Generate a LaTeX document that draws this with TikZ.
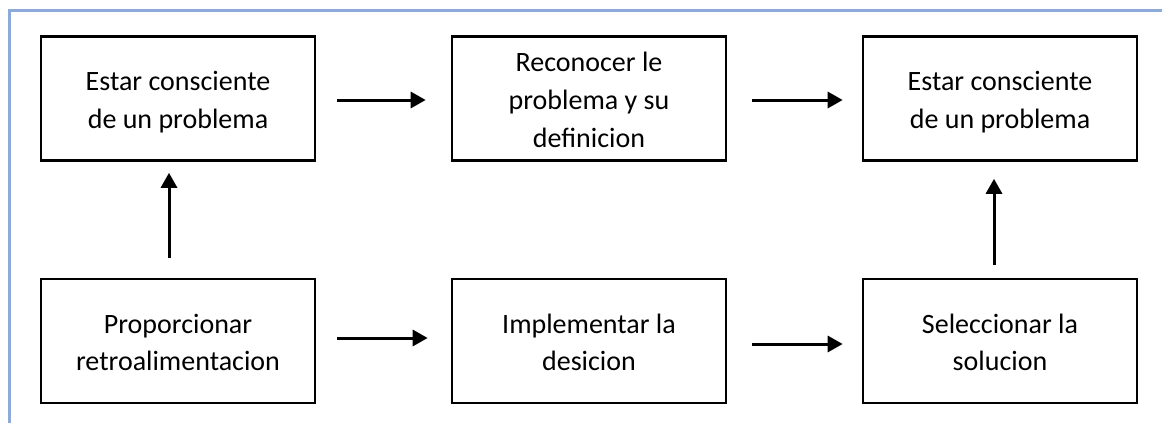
\documentclass[tikz,border=0pt]{standalone}
\usepackage{fontspec}
\setmainfont{Carlito}
\usetikzlibrary{arrows.meta}
\definecolor{frameblue}{HTML}{8EAADB}
\newcommand{\boxtext}[1]{\raisebox{-3.5pt}[\height][\depth]{\begin{tabular}{@{}c@{}}#1\end{tabular}}}
\tikzset{
  box/.style={draw, line width=2.6pt, minimum width=274pt, minimum height=124pt, inner sep=0pt,
    font=\fontsize{28}{37.6}\selectfont},
  conn/.style={line width=3pt, -{Triangle[length=15pt,width=16pt]}}
}
\begin{document}
\begin{tikzpicture}[x=1pt,y=-1pt]
\useasboundingbox (0,0) rectangle (1162,423);
\draw[frameblue, line width=3pt] (9,423) -- (9,10) -- (1162,10);
\node[box] (b1) at (178,98.5) {\boxtext{Estar consciente\\de un problema}};
\node[box] (b2) at (589,98.5) {\boxtext{Reconocer le\\problema y su\\definicion}};
\node[box] (b3) at (1000,98.5) {\boxtext{Estar consciente\\de un problema}};
\node[box] (b4) at (178,341) {\boxtext{Proporcionar\\retroalimentacion}};
\node[box] (b5) at (589,341) {\boxtext{Implementar la\\desicion}};
\node[box] (b6) at (1000,341) {\boxtext{Seleccionar la\\solucion}};
\draw[conn, shorten <=21pt, shorten >=25pt] ([yshift=-1.5pt]b1.east) -- ([yshift=-1.5pt]b2.west);
\draw[conn, shorten <=25pt, shorten >=19pt] ([yshift=-1.5pt]b2.east) -- ([yshift=-1.5pt]b3.west);
\draw[conn, shorten <=20pt, shorten >=11pt] ([xshift=-9pt]b4.north) -- ([xshift=-9pt]b1.south);
\draw[conn, shorten <=13pt, shorten >=17pt] ([xshift=-6pt]b6.north) -- ([xshift=-6pt]b3.south);
\draw[conn, shorten <=21pt, shorten >=23pt] ([yshift=3pt]b4.east) -- ([yshift=3pt]b5.west);
\draw[conn, shorten <=25pt, shorten >=19pt] ([yshift=-3pt]b5.east) -- ([yshift=-3pt]b6.west);
\end{tikzpicture}
\end{document}
